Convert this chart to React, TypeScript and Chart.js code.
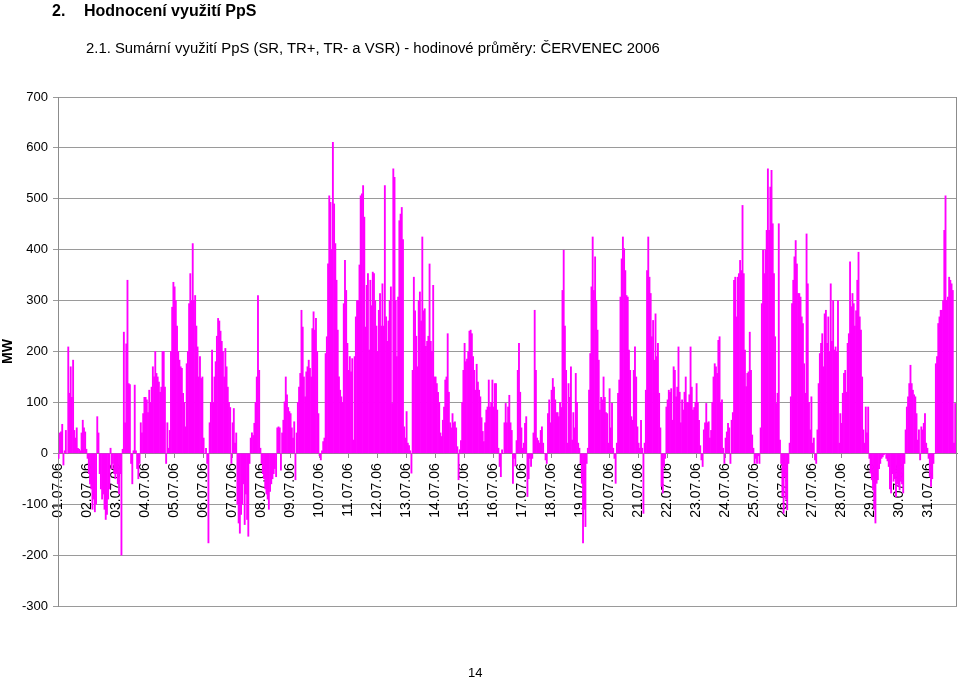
import React, { useEffect, useRef } from 'react';
import { Chart, registerables } from 'chart.js';

Chart.register(...registerables);

const FONT = "'Liberation Sans', Arial, Helvetica, sans-serif";

const dayLabels = [
  '01.07.06', '02.07.06', '03.07.06', '04.07.06', '05.07.06', '06.07.06', '07.07.06', '08.07.06',
  '09.07.06', '10.07.06', '11.07.06', '12.07.06', '13.07.06', '14.07.06', '15.07.06', '16.07.06',
  '17.07.06', '18.07.06', '19.07.06', '20.07.06', '21.07.06', '22.07.06', '23.07.06', '24.07.06',
  '25.07.06', '26.07.06', '27.07.06', '28.07.06', '29.07.06', '30.07.06', '31.07.06',
];

// hourly averages (MW), 24 values per day
const d01 = [-10, 40, 42, 57, -23, 5, 45, 0, 209, 118, 170, 110, 183, 45, 30, 50, 10, 8, 5, 40, 65, 50, 42, 8];
const d02 = [-10, -40, -60, -70, -110, -90, -115, -100, 72, 40, -40, -70, -90, -80, -110, -130, -120, -90, -70, 10, -30, -20, -40, -50];
const d03 = [-40, -60, -80, -40, -200, 8, 238, 60, 215, 340, 137, 135, -20, -60, 5, 134, 5, -30, -50, -20, 60, 40, 78, 110];
const d04 = [110, 105, 80, 124, 100, 130, 170, 150, 200, 157, 150, 140, 120, 130, 200, 200, 130, -20, 60, 10, 45, 200, 287, 336];
const d05 = [327, 300, 250, 200, 183, 170, 167, 118, 100, 52, 176, 200, 294, 353, 300, 412, 300, 310, 250, 209, 150, 190, 147, 150];
const d06 = [30, 0, 10, -20, -176, 60, 100, 203, 100, 150, 180, 230, 265, 260, 240, 220, 200, 150, 206, 170, 130, 100, 90, -20];
const d07 = [60, 88, 20, 40, -100, -137, -157, -120, -100, -60, -140, -80, -130, -163, -20, 30, 40, 35, 59, 100, 150, 310, 163, 10];
const d08 = [-20, -40, -50, -70, -80, -90, -110, -75, -60, -50, -40, -30, -46, 50, 52, 50, -33, 40, 65, 101, 150, 115, 90, 82];
const d09 = [78, 50, 30, 62, -52, 40, 100, 130, 157, 281, 248, 150, 111, 160, 170, 183, 167, 150, 245, 278, 242, 265, 200, 78];
const d10 = [-5, -13, 5, 23, 30, 196, 229, 372, 506, 493, 400, 611, 490, 412, 340, 242, 150, 124, 111, 100, 294, 379, 320, 216];
const d11 = [163, 190, 160, 186, 26, 190, 268, 300, 300, 370, 506, 510, 526, 464, 248, 330, 353, 203, 340, 290, 356, 353, 300, 250];
const d12 = [200, 281, 314, 250, 333, 250, 526, 268, 220, 260, 300, 327, 98, 559, 542, 300, 190, 307, 457, 470, 483, 420, 52, 30];
const d13 = [82, 20, 15, 5, -39, 163, 346, 280, 230, 170, 300, 317, 260, 425, 280, 284, 210, 220, 230, 372, 220, 200, 330, 150];
const d14 = [150, 137, 120, 100, 40, 33, 65, 91, 144, 150, 235, 120, 60, 50, 78, 60, 62, 50, 13, -52, 7, 25, 100, 163];
const d15 = [216, 180, 185, 200, 240, 242, 235, 190, 163, 124, 175, 140, 124, 111, 70, 43, 23, 60, 85, 91, 144, 91, 100, 144];
const d16 = [91, 137, 137, 85, 10, -26, -46, 7, 0, 60, 98, 60, 91, 114, 60, 45, -59, -10, -25, 25, 163, 216, 120, 50];
const d17 = [10, 20, 59, 72, -85, -50, -10, -26, -10, 40, 281, 163, 30, 25, 20, 45, 52, 20, 0, -13, -20, 78, 105, 60];
const d18 = [124, 147, 130, 105, 80, 80, 72, 100, 90, 320, 399, 250, 163, 20, 137, 110, 170, 26, 80, 50, 157, 100, 20, 10];
const d19 = [-20, -59, -176, -110, -144, -20, 10, 124, 196, 327, 425, 320, 386, 300, 242, 183, 85, 110, 105, 150, 110, 80, 78, 20];
const d20 = [127, 50, 98, 10, -10, -59, 20, 118, 144, 307, 382, 425, 402, 359, 310, 307, 203, 163, 72, 65, 163, 209, 150, 52];
const d21 = [20, 10, 65, 10, -118, 20, 124, 359, 425, 346, 314, 229, 261, 183, 274, 190, 216, 118, 50, -65, -78, -26, -10, 91];
const d22 = [105, 124, 120, 127, 65, 170, 163, 111, 130, 209, 120, 60, 105, 85, 120, 150, 100, 100, 115, 209, 130, 85, 90, 100];
const d23 = [137, 100, 65, 15, -13, -26, 46, 60, 98, 60, 62, 30, 45, 100, 150, 176, 170, 157, 222, 229, 100, 105, 10, -20];
const d24 = [30, 42, 59, 50, -20, 65, 80, 340, 346, 268, 346, 353, 379, 359, 487, 353, 203, 131, 157, 160, 238, 163, 36, 10];
const d25 = [-20, -10, -20, -5, -20, 50, 294, 399, 353, 399, 438, 559, 438, 523, 556, 451, 353, 229, 98, 118, 451, 26, -20, -85];
const d26 = [-118, -46, -90, -111, -20, 20, 111, 294, 340, 386, 418, 372, 314, 314, 307, 268, 255, 176, 118, 431, 333, 100, 46, 111];
const d27 = [20, 30, -13, -20, 46, 137, 196, 216, 235, 170, 274, 281, 216, 268, 200, 333, 220, 300, 203, 209, 200, 300, 20, 78];
const d28 = [59, 118, 157, 163, 120, 216, 235, 376, 288, 314, 294, 250, 280, 340, 395, 268, 242, 150, 46, 20, 91, 40, 91, -10];
const d29 = [-39, -52, -72, -110, -137, -59, -52, -30, -20, -10, -7, -3, 0, -10, -15, -26, -70, -78, -40, -55, -50, -85, -60, -65];
const d30 = [-72, -55, -60, -78, -20, 46, 91, 111, 137, 173, 137, 124, 115, 111, 78, 26, 46, -13, 52, 46, 59, 78, 20, 10];
const d31 = [-10, -46, -65, -50, -20, 0, 176, 190, 255, 268, 281, 281, 300, 438, 506, 300, 307, 346, 340, 333, 320, 20, 98, 46];

const days = [d01, d02, d03, d04, d05, d06, d07, d08, d09, d10, d11, d12, d13, d14, d15, d16,
  d17, d18, d19, d20, d21, d22, d23, d24, d25, d26, d27, d28, d29, d30, d31];

const Y_MIN = -300;
const Y_MAX = 700;
const Y_STEP = 100;

const rightBorder = {
  id: 'rightBorder',
  afterDraw(chart: any) {
    const { ctx, chartArea } = chart;
    ctx.save();
    ctx.strokeStyle = '#8c8c8c';
    ctx.lineWidth = 1;
    ctx.beginPath();
    ctx.moveTo(Math.round(chartArea.right) - 0.5, chartArea.top);
    ctx.lineTo(Math.round(chartArea.right) - 0.5, chartArea.bottom);
    ctx.stroke();
    ctx.restore();
  },
};

export default function App() {
  const ref = useRef<HTMLCanvasElement>(null);

  useEffect(() => {
    const values = days.flat();
    const labels = values.map((_, i) => (i % 24 === 0 ? dayLabels[i / 24] : ''));
    const chart = new Chart(ref.current as HTMLCanvasElement, {
      type: 'bar',
      data: {
        labels,
        datasets: [
          {
            data: values,
            backgroundColor: '#ff00ff',
            borderWidth: 0,
            barPercentage: 1,
            categoryPercentage: 1,
          },
        ],
      },
      options: {
        responsive: false,
        animation: false,
        events: [],
        layout: { padding: { left: 0, top: 97, right: 3, bottom: 73 } },
        plugins: { legend: { display: false }, tooltip: { enabled: false }, title: { display: false } },
        scales: {
          x: {
            type: 'category',
            position: { y: 0 } as any,
            afterFit: (s: any) => {
              s.paddingLeft = 0;
              s.paddingRight = 0;
            },
            grid: {
              drawOnChartArea: false,
              drawTicks: true,
              tickLength: 4,
              offset: true,
              color: (c: any) => (c.index % 24 === 0 ? '#8c8c8c' : 'rgba(0,0,0,0)'),
            },
            border: { display: true, color: '#8c8c8c' },
            ticks: {
              autoSkip: false,
              maxRotation: 90,
              minRotation: 90,
              padding: 6,
              color: '#000',
              font: { family: FONT, size: 14 },
            },
          },
          y: {
            min: Y_MIN,
            max: Y_MAX,
            afterFit: (s: any) => {
              s.width = 58;
            },
            ticks: {
              stepSize: Y_STEP,
              padding: 5,
              color: '#000',
              font: { family: FONT, size: 13 },
            },
            grid: { color: '#9a9a9a', tickLength: 5, drawTicks: true },
            border: { display: true, color: '#8c8c8c' },
            title: {
              display: true,
              text: 'MW',
              color: '#000',
              padding: { top: 0, bottom: 0 },
              font: { family: FONT, size: 14, weight: 'bold' },
            },
          },
        },
      },
      plugins: [rightBorder],
    });
    return () => chart.destroy();
  }, []);

  return (
    <div
      style={{
        position: 'absolute',
        left: 0,
        top: 0,
        width: 960,
        height: 679,
        background: '#fff',
        fontFamily: FONT,
        color: '#000',
        overflow: 'hidden',
      }}
    >
      <canvas ref={ref} width={960} height={679} style={{ position: 'absolute', left: 0, top: 0 }} />
      <div style={{ position: 'absolute', left: 52, top: 3, fontSize: 16, lineHeight: '16px', fontWeight: 'bold' }}>2.</div>
      <div style={{ position: 'absolute', left: 84, top: 3, fontSize: 16, lineHeight: '16px', fontWeight: 'bold', whiteSpace: 'nowrap' }}>
        Hodnocení využití PpS
      </div>
      <div style={{ position: 'absolute', left: 86, top: 41, fontSize: 14.85, lineHeight: '15px', whiteSpace: 'nowrap' }}>
        2.1. Sumární využití PpS (SR, TR+, TR- a VSR) - hodinové průměry: ČERVENEC 2006
      </div>
      <div style={{ position: 'absolute', left: 468, top: 666, fontSize: 13, lineHeight: '13px' }}>14</div>
    </div>
  );
}
